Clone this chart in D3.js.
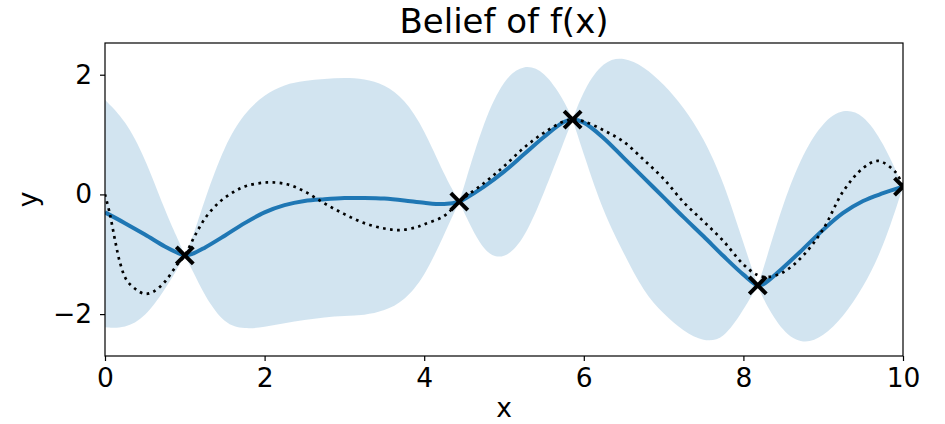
<!DOCTYPE html>
<html>
<head>
<meta charset="utf-8">
<script src="https://cdn.jsdelivr.net/npm/d3@7"></script>
<style>
  html, body { margin: 0; padding: 0; background: #fff; }
  svg { display: block; font-family: "DejaVu Sans", sans-serif; }
</style>
</head>
<body>
<svg id="chart" width="945" height="424"></svg>
<script>
// Gaussian-process posterior: grid, mean and the ±2σ envelope
const gpX = [0, 0.25, 0.5, 0.75, 0.9, 1.0, 1.1, 1.25, 1.5, 1.75, 2.0, 2.25, 2.5, 2.75, 3.0, 3.25, 3.5, 3.75, 4.0, 4.25, 4.44, 4.5, 4.75, 5.0, 5.25, 5.5, 5.75, 5.86, 6.0, 6.25, 6.5, 6.75, 7.0, 7.25, 7.5, 7.75, 8.0, 8.18, 8.25, 8.5, 8.75, 9.0, 9.25, 9.5, 9.75, 10];
const gpMean = [-0.30, -0.48, -0.67, -0.87, -0.97, -1.02, -0.99, -0.89, -0.69, -0.48, -0.30, -0.18, -0.11, -0.08, -0.06, -0.06, -0.07, -0.10, -0.14, -0.16, -0.12, -0.08, 0.13, 0.38, 0.67, 0.96, 1.21, 1.25, 1.20, 0.94, 0.61, 0.28, -0.05, -0.38, -0.70, -1.03, -1.34, -1.52, -1.50, -1.22, -0.91, -0.59, -0.31, -0.11, 0.02, 0.13];
const gpUpper = [1.58, 1.25, 0.62, -0.27, -0.71, -1.02, -0.72, -0.08, 0.83, 1.37, 1.67, 1.84, 1.90, 1.93, 1.95, 1.93, 1.84, 1.60, 1.09, 0.32, -0.12, 0.14, 1.24, 1.94, 2.18, 2.07, 1.58, 1.25, 1.76, 2.24, 2.30, 2.14, 1.85, 1.46, 0.95, 0.22, -0.82, -1.52, -1.25, -0.13, 0.70, 1.22, 1.44, 1.35, 0.88, 0.13];
const gpLower = [-2.22, -2.24, -2.06, -1.59, -1.26, -1.02, -1.28, -1.70, -2.18, -2.25, -2.22, -2.15, -2.10, -2.05, -2.03, -2.02, -1.95, -1.78, -1.39, -0.67, -0.12, -0.30, -0.99, -1.10, -0.76, 0.02, 0.88, 1.25, 0.67, -0.32, -0.98, -1.63, -2.00, -2.29, -2.46, -2.43, -1.93, -1.52, -1.76, -2.32, -2.51, -2.38, -2.05, -1.56, -0.90, 0.13];

// underlying function f(x)
const trueX = [0, 0.06, 0.125, 0.19, 0.27, 0.4, 0.5, 0.6, 0.75, 0.9, 1.0, 1.13, 1.27, 1.44, 1.61, 1.77, 2.03, 2.28, 2.5, 2.75, 3.0, 3.25, 3.5, 3.7, 3.9, 4.0, 4.25, 4.44, 4.75, 5.0, 5.25, 5.5, 5.75, 5.86, 6.0, 6.25, 6.5, 6.75, 7.0, 7.25, 7.5, 7.75, 8.0, 8.18, 8.3, 8.5, 8.75, 9.0, 9.25, 9.5, 9.69, 9.9, 10];
const trueY = [0.0, -0.32, -0.76, -1.15, -1.43, -1.60, -1.66, -1.63, -1.46, -1.18, -1.02, -0.68, -0.37, -0.12, 0.04, 0.14, 0.20, 0.17, 0.05, -0.15, -0.33, -0.48, -0.57, -0.595, -0.55, -0.50, -0.36, -0.12, 0.19, 0.47, 0.78, 1.03, 1.22, 1.25, 1.22, 1.07, 0.88, 0.58, 0.26, -0.13, -0.45, -0.78, -1.17, -1.35, -1.38, -1.30, -1.02, -0.58, 0.05, 0.44, 0.56, 0.38, 0.15];

// sampled observations
const obsX = [1.0, 4.44, 5.86, 8.18, 10.0];
const obsY = [-1.02, -0.12, 1.25, -1.52, 0.13];

const xTicks = [0, 2, 4, 6, 8, 10];
const yTicks = [-2, 0, 2];

const blue = "#1f77b4";
const plot = { left: 105, right: 903, top: 43, bottom: 356 };

const svg = d3.select("#chart");
svg.append("rect").attr("width", 945).attr("height", 424).attr("fill", "#fff");

const x = d3.scaleLinear().domain([0, 10]).range([plot.left, plot.right]);
const y = d3.scaleLinear().domain([-2.70, 2.53]).range([plot.bottom, plot.top]);

svg.append("clipPath").attr("id", "plot-clip")
  .append("rect")
  .attr("x", plot.left).attr("y", plot.top)
  .attr("width", plot.right - plot.left).attr("height", plot.bottom - plot.top);

const g = svg.append("g").attr("clip-path", "url(#plot-clip)");

// envelope pinches at each observation, so draw it lobe by lobe
const gpRows = gpX.map((v, i) => ({ x: v, m: gpMean[i], hi: gpUpper[i], lo: gpLower[i] }));
const lobes = [];
let current = [];
gpRows.forEach(r => {
  current.push(r);
  if (obsX.includes(r.x) && current.length > 1) {
    lobes.push(current);
    current = [r];
  }
});
if (current.length > 1) lobes.push(current);

const band = d3.area()
  .x(d => x(d.x))
  .y0(d => y(d.lo))
  .y1(d => y(d.hi))
  .curve(d3.curveBasis);

g.selectAll("path.band").data(lobes).join("path")
  .attr("class", "band")
  .attr("d", band)
  .attr("fill", blue)
  .attr("fill-opacity", 0.2)
  .attr("stroke", "none");

// posterior mean
const meanLine = d3.line().x(d => x(d.x)).y(d => y(d.m)).curve(d3.curveCatmullRom);
g.append("path")
  .datum(gpRows)
  .attr("d", meanLine)
  .attr("fill", "none")
  .attr("stroke", blue)
  .attr("stroke-width", 4);

// true function, dotted
const trueRows = trueX.map((v, i) => ({ x: v, y: trueY[i] }));
const trueLine = d3.line().x(d => x(d.x)).y(d => y(d.y)).curve(d3.curveCatmullRom);
g.append("path")
  .datum(trueRows)
  .attr("d", trueLine)
  .attr("fill", "none")
  .attr("stroke", "#000")
  .attr("stroke-width", 2.7)
  .attr("stroke-dasharray", "2.7,4.4");

// observation markers
const mk = 8.5;
const obs = g.selectAll("g.obs").data(obsX.map((v, i) => ({ x: v, y: obsY[i] }))).join("g")
  .attr("class", "obs")
  .attr("transform", d => `translate(${x(d.x)},${y(d.y)})`);
obs.append("path")
  .attr("d", `M${-mk},${-mk}L${mk},${mk}M${-mk},${mk}L${mk},${-mk}`)
  .attr("stroke", "#000")
  .attr("stroke-width", 4)
  .attr("fill", "none");

// axes
const xAxis = d3.axisBottom(x).tickValues(xTicks).tickSize(5).tickPadding(7).tickFormat(d3.format("d"));
const yAxis = d3.axisLeft(y).tickValues(yTicks).tickSize(5).tickPadding(8).tickFormat(d3.format("d"));

const gx = svg.append("g").attr("transform", `translate(0,${plot.bottom})`).call(xAxis);
const gy = svg.append("g").attr("transform", `translate(${plot.left},0)`).call(yAxis);
[gx, gy].forEach(a => {
  a.select(".domain").remove();
  a.selectAll(".tick line").attr("stroke", "#000").attr("stroke-width", 1.2);
  a.selectAll(".tick text")
    .attr("fill", "#000")
    .style("font-family", "'DejaVu Sans', sans-serif")
    .style("font-size", "26.5px");
});

// frame
svg.append("rect")
  .attr("x", plot.left).attr("y", plot.top)
  .attr("width", plot.right - plot.left).attr("height", plot.bottom - plot.top)
  .attr("fill", "none")
  .attr("stroke", "#000")
  .attr("stroke-width", 1.2);

// labels
svg.append("text")
  .attr("x", (plot.left + plot.right) / 2).attr("y", 33)
  .attr("text-anchor", "middle")
  .style("font-size", "34px")
  .attr("fill", "#000")
  .text("Belief of f(x)");

svg.append("text")
  .attr("x", (plot.left + plot.right) / 2).attr("y", 417)
  .attr("text-anchor", "middle")
  .style("font-size", "26.5px")
  .attr("fill", "#000")
  .text("x");

svg.append("text")
  .attr("transform", `translate(37,${(plot.top + plot.bottom) / 2}) rotate(-90)`)
  .attr("text-anchor", "middle")
  .style("font-size", "26.5px")
  .attr("fill", "#000")
  .text("y");
</script>
</body>
</html>
